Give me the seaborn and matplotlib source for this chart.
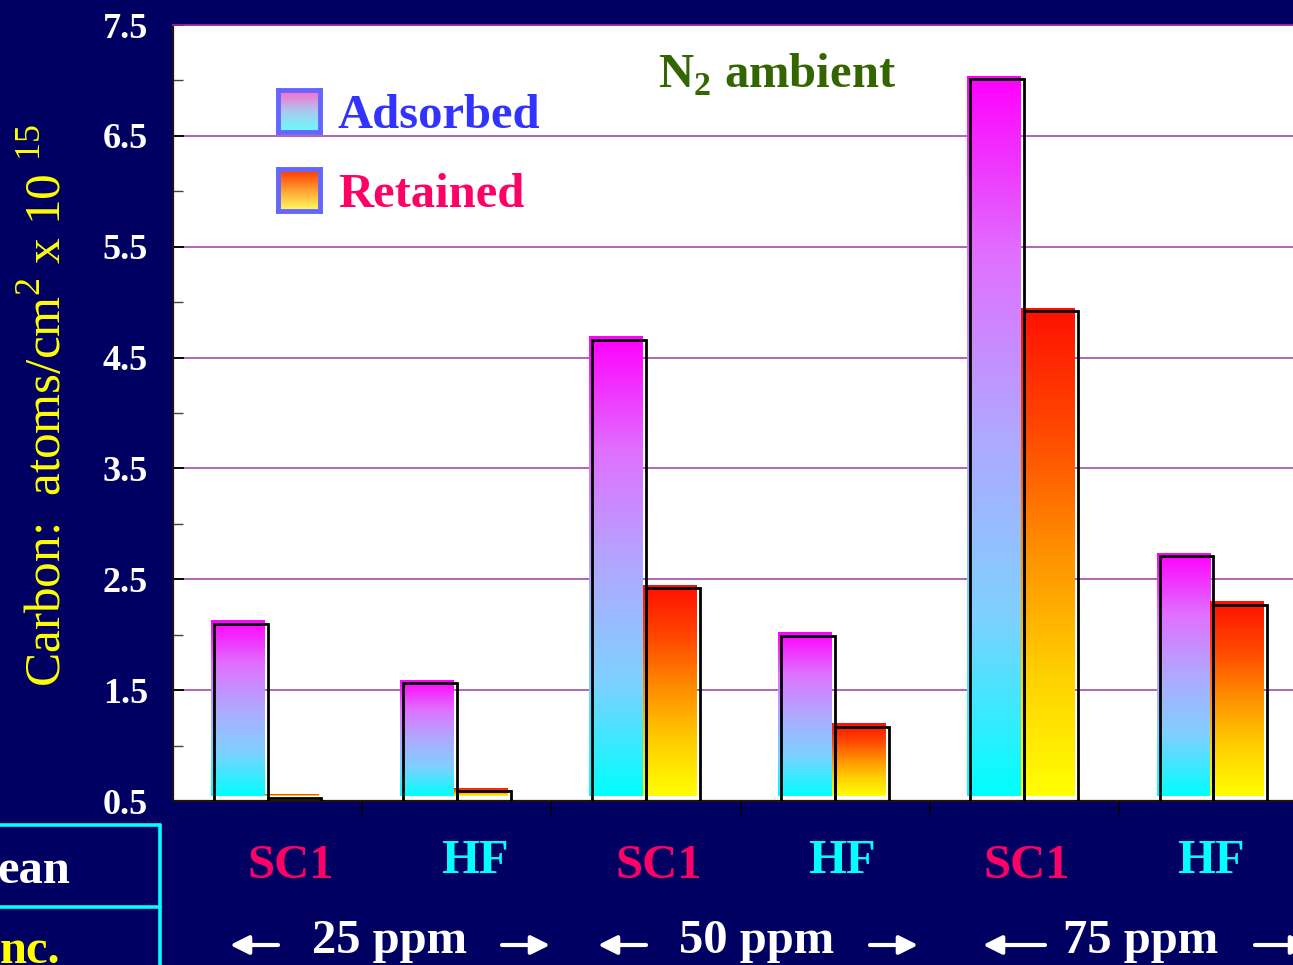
import numpy as np
import pandas as pd
import matplotlib
matplotlib.use("Agg")
import matplotlib.pyplot as plt
import seaborn as sns
from matplotlib.colors import LinearSegmentedColormap
from matplotlib.lines import Line2D
from matplotlib.patches import FancyArrowPatch

# ---------------- data ----------------
groups = ["SC1 25", "HF 25", "SC1 50", "HF 50", "SC1 75", "HF 75"]
clean_labels = ["SC1", "HF", "SC1", "HF", "SC1", "HF"]
conc_labels = ["25 ppm", "50 ppm", "75 ppm"]
series = ["Adsorbed", "Retained"]
adsorbed = [2.10, 1.56, 4.66, 1.99, 7.01, 2.71]
retained = [0.53, 0.59, 2.42, 1.17, 4.92, 2.27]
yticks = [0.5, 1.5, 2.5, 3.5, 4.5, 5.5, 6.5, 7.5]
yminor = [1.0, 2.0, 3.0, 4.0, 5.0, 6.0, 7.0]

df = pd.DataFrame({
    "group": groups * 2,
    "series": [series[0]] * len(groups) + [series[1]] * len(groups),
    "value": adsorbed + retained,
})

# ---------------- style ----------------
sns.set_style("white")
plt.rcParams["font.family"] = ["Liberation Serif", "DejaVu Serif"]
NAVY = "#000062"
W, H = 1293, 965

fig = plt.figure(figsize=(W / 100, H / 100), dpi=100, facecolor=NAVY)

def fx(x):
    return x / W

def fy(y):
    return 1 - y / H

ax = fig.add_axes([fx(173), fy(801), (1308 - 173) / W, (801 - 25) / H])
ax.set_facecolor("white")

sns.barplot(data=df, x="group", y="value", hue="series", order=groups,
            hue_order=series, width=0.57, palette=["white", "white"],
            saturation=1, legend=False, ax=ax, edgecolor="black",
            linewidth=2.0, zorder=3)

cmap_ads = LinearSegmentedColormap.from_list(
    "ads", ["#00ffff", "#7fd0ff", "#b0a8ff", "#e070ff", "#ff00ff"])
cmap_ret = LinearSegmentedColormap.from_list(
    "ret", ["#ffff00", "#ffd000", "#ff9000", "#ff4800", "#ff1000"])
cmaps = [cmap_ads, cmap_ret]
grad = np.linspace(0, 1, 256).reshape(-1, 1)

dx = 3 / 189.2
dy = 3 / 110.7
for i, cont in enumerate(ax.containers):
    for bar in cont:
        x, w, h = bar.get_x(), bar.get_width(), bar.get_height()
        bar.set_facecolor("none")
        ax.imshow(grad, extent=[x - dx, x + w - dx, 0.5 + 5 / 110.7, h + dy],
                  cmap=cmaps[i], aspect="auto", origin="lower", zorder=2,
                  interpolation="bilinear")

ax.set_xlim(-0.5, 5.5)
ax.set_ylim(0.5, 7.5)
ax.set_xlabel("")
ax.set_ylabel("")

ax.set_yticks(yticks)
ax.set_yticklabels([f"{v:.1f}" for v in yticks])
ax.set_yticks(yminor, minor=True)
ax.set_xticks([0.5, 1.5, 2.5, 3.5, 4.5])
ax.set_xticklabels([])
ax.tick_params(axis="y", which="major", direction="in", length=8, width=1.3,
               color="black", labelcolor="white", labelsize=26, pad=18,
               left=True)
ax.tick_params(axis="y", which="minor", direction="in", length=7, width=1.0,
               color="#444444", left=True)
ax.tick_params(axis="x", which="major", direction="out", length=10, width=1.2,
               color="black", bottom=True)
for lab in ax.get_yticklabels():
    lab.set_fontweight("bold")

ax.yaxis.grid(True, which="major", color="#9a3aa0", lw=1.1)
ax.xaxis.grid(False)
ax.set_axisbelow(True)
for s in ["left", "bottom"]:
    ax.spines[s].set_color("#201010")
    ax.spines[s].set_linewidth(1.6)
ax.spines["top"].set_color("#a030a0")
ax.spines["top"].set_linewidth(1.2)
ax.spines["right"].set_visible(False)

# ---------------- titles / legend ----------------
fig.text(fx(658), fy(88), r"N$_\mathregular{2}$ ambient", color="#336600",
         fontsize=35, fontweight="bold", ha="left", va="baseline")

leg_cmaps = [
    LinearSegmentedColormap.from_list("la", ["#66ffff", "#aac8ee", "#ff66cc"]),
    LinearSegmentedColormap.from_list("lr", ["#ffff66", "#ffa030", "#ff3300"]),
]
leg_tops = [90, 169]
leg_colors = ["#3333ff", "#ff0066"]
for i, name in enumerate(series):
    lax = fig.add_axes([fx(278), fy(leg_tops[i] + 42), 42 / W, 42 / H])
    lax.imshow(grad, cmap=leg_cmaps[i], aspect="auto", origin="lower")
    lax.set_xticks([])
    lax.set_yticks([])
    for s in lax.spines.values():
        s.set_color("#6666ff")
        s.set_linewidth(3.5)
    fig.text(fx(338), fy(leg_tops[i] + 38), name, color=leg_colors[i],
             fontsize=35, fontweight="bold", ha="left", va="baseline")

# y label
fig.text(fx(47), fy(405),
         r"Carbon:  atoms/cm$^\mathregular{2}$ x 10 $^\mathregular{15}$",
         rotation=90, color="#ffff00", fontsize=37, ha="center", va="center")

# ---------------- bottom table ----------------
clean_x = [291, 475, 659, 842, 1027, 1211]
for lab, x in zip(clean_labels, clean_x):
    col = "#ff0066" if lab == "SC1" else "#00ffff"
    yb = 878 if lab == "SC1" else 873
    fig.text(fx(x), fy(yb), lab, color=col, fontsize=35, fontweight="bold",
             ha="center", va="baseline")

conc_x = [390, 757, 1141]
arrows = [((230, 278), (502, 550)), ((598, 646), (870, 918)),
          ((983, 1045), (1255, 1310))]
for lab, x, (la, ra) in zip(conc_labels, conc_x, arrows):
    fig.text(fx(x), fy(953), lab, color="white", fontsize=35,
             fontweight="bold", ha="center", va="baseline")
    for (x0, x1), left in [(la, True), (ra, False)]:
        tail, head = (x1, x0) if left else (x0, x1)
        fig.add_artist(FancyArrowPatch(
            (fx(tail), fy(945)), (fx(head), fy(945)),
            transform=fig.transFigure, arrowstyle="-|>", color="white",
            lw=3, mutation_scale=28, shrinkA=0, shrinkB=0))

cyan = "#00ffff"
for (x0, y0, x1, y1) in [(0, 825, 160, 825), (0, 907, 160, 907),
                         (160, 825, 160, 970)]:
    fig.add_artist(Line2D([fx(x0), fx(x1)], [fy(y0), fy(y1)], color=cyan,
                          lw=2.6, transform=fig.transFigure))
fig.text(fx(70), fy(883), "ean", color="white", fontsize=35,
         fontweight="bold", ha="right", va="baseline")
fig.text(fx(60), fy(963), "nc.", color="#ffff00", fontsize=35,
         fontweight="bold", ha="right", va="baseline")

fig.savefig("out.png", dpi=100, facecolor=NAVY)
